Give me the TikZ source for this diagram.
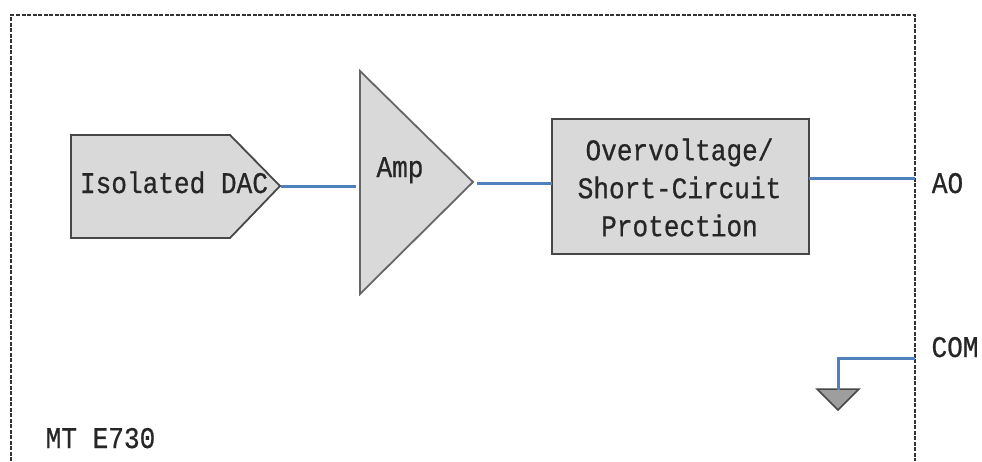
\documentclass[tikz,border=0pt]{standalone}
\usepackage{fontspec}
\newfontfamily\dmono[FakeStretch=0.87,FakeBold=0.6]{Liberation Mono}
\definecolor{wireblue}{RGB}{79,129,189}
\tikzset{
  blockshape/.style={draw=black!72,line width=1.8pt,fill=black!15,line join=miter},
  wire/.style={draw=wireblue,line width=3pt},
  frameline/.style={draw=black!80,line width=1.8pt,dash pattern=on 4pt off 1.5pt},
  label/.style={font=\dmono\fontsize{30}{38}\selectfont,text=black!85,inner sep=0pt,anchor=base,align=center}
}
\begin{document}
\begin{tikzpicture}[x=1pt,y=-1pt]
\useasboundingbox (0,0) rectangle (982,461);
\coordinate (fbl) at (11,461);
\coordinate (ftl) at (11,15);
\coordinate (ftr) at (915,15);
\coordinate (fbr) at (915,461);
\draw[frameline] (fbl) -- (ftl) -- (ftr) -- (fbr);
% DAC
\coordinate (dacA) at (71,135);
\coordinate (dacB) at (230,135);
\coordinate (dacT) at (280,186);
\coordinate (dacC) at (230,238);
\coordinate (dacD) at (71,238);
\draw[blockshape] (dacA) -- (dacB) -- (dacT) -- (dacC) -- (dacD) -- cycle;
\node[label] (dac) at (174,193) {Isolated DAC};
% Amp
\coordinate (ampA) at (360,71);
\coordinate (ampT) at (473,182);
\coordinate (ampB) at (360,294);
\draw[blockshape,draw=black!60] (ampA) -- (ampT) -- (ampB) -- cycle;
\node[label] (amp) at (400,177) {Amp};
% Protection
\node[blockshape,minimum width=257pt,minimum height=135pt,inner sep=0pt] (prot) at (680.5,186.5) {};
\node[font=\dmono\fontsize{30}{38}\selectfont,text=black!85,inner sep=0pt,align=center] (prottext) at (679.5,187.5)
  {Overvoltage/\\Short-Circuit\\Protection};
% Labels
\node[label] (ao) at (947.5,193) {AO};
\node[label] (com) at (955,357) {COM};
\node[label] (mt) at (100.5,448) {MT E730};
% Connectors
\coordinate (w1s) at (281,186);
\coordinate (w1e) at (356,186);
\coordinate (w2s) at (477,183);
\coordinate (w2e) at (552,183);
\coordinate (w3s) at (809,178);
\coordinate (w3e) at (915,178);
\coordinate (w4s) at (915,358);
\coordinate (w4k) at (838,358);
\coordinate (w4e) at (838,390);
\coordinate (gl) at (817,389);
\coordinate (gr) at (859,389);
\coordinate (gt) at (838,410);
\draw[blockshape,fill=black!38,line width=1.5pt] (gl) -- (gr) -- (gt) -- cycle;
\draw[wire] (w1s) -- (w1e);
\draw[wire] (w2s) -- (w2e);
\draw[wire] (w3s) -- (w3e);
\draw[wire] (w4s) -- (w4k) -- (w4e);
\end{tikzpicture}
\end{document}
